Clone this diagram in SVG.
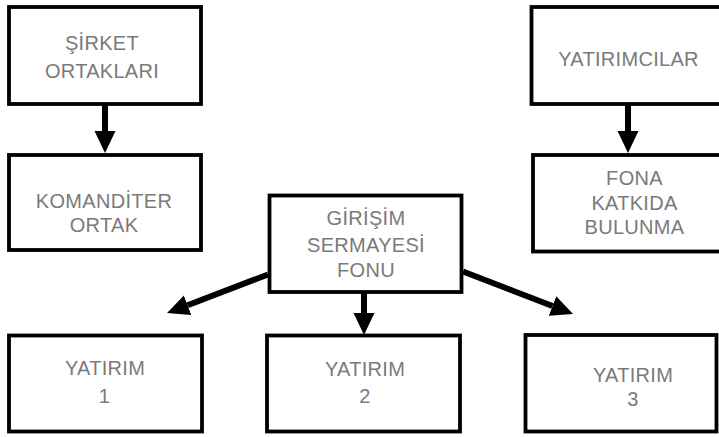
<svg xmlns="http://www.w3.org/2000/svg" width="719" height="437" viewBox="0 0 719 437">
  <style>
    .box { fill: #ffffff; stroke: #000000; stroke-width: 3.8; }
    .lbl { font-family: "Liberation Sans", Arial, Helvetica, sans-serif; font-size: 20px; letter-spacing: 0.3px; fill: #7a7a7a; text-anchor: middle; }
    .link { stroke: #000000; stroke-width: 6; fill: none; marker-end: url(#head); }
  </style>
  <defs>
    <marker id="head" markerUnits="userSpaceOnUse" markerWidth="24" markerHeight="22" refX="0" refY="11" orient="auto">
      <path d="M0,0.5 L22,11 L0,21.5 Z" fill="#000000"/>
    </marker>
  </defs>
  <rect width="719" height="437" fill="#ffffff"/>

  <g id="connectors">
    <line class="link" x1="105" y1="105" x2="105" y2="131"/>
    <line class="link" x1="628" y1="105" x2="628" y2="131"/>
    <line class="link" x1="364" y1="293" x2="364" y2="313"/>
    <line class="link" x1="268" y1="274.5" x2="187.6" y2="305.2"/>
    <line class="link" x1="463" y1="271.5" x2="552.5" y2="306"/>
  </g>

  <g id="sirket-ortaklari">
    <rect class="box" x="9" y="7" width="192" height="97"/>
    <text class="lbl" x="102" y="50">ŞİRKET</text>
    <text class="lbl" x="102" y="78">ORTAKLARI</text>
  </g>

  <g id="komanditer-ortak">
    <rect class="box" x="9" y="155" width="192" height="95"/>
    <text class="lbl" x="104" y="208">KOMANDİTER</text>
    <text class="lbl" x="104" y="232">ORTAK</text>
  </g>

  <g id="girisim-sermayesi-fonu">
    <rect class="box" x="269.5" y="195.5" width="192" height="96.5"/>
    <text class="lbl" x="366" y="225">GİRİŞİM</text>
    <text class="lbl" x="366" y="251.5">SERMAYESİ</text>
    <text class="lbl" x="366" y="277">FONU</text>
  </g>

  <g id="yatirimcilar">
    <rect class="box" x="531.5" y="7" width="195" height="97"/>
    <text class="lbl" x="628.5" y="65.5">YATIRIMCILAR</text>
  </g>

  <g id="fona-katkida-bulunma">
    <rect class="box" x="533" y="155" width="195" height="96.5"/>
    <text class="lbl" x="634.5" y="185">FONA</text>
    <text class="lbl" x="634.5" y="210">KATKIDA</text>
    <text class="lbl" x="634.5" y="234">BULUNMA</text>
  </g>

  <g id="yatirim-1">
    <rect class="box" x="9" y="335.5" width="193" height="96"/>
    <text class="lbl" x="105" y="375">YATIRIM</text>
    <text class="lbl" x="104.5" y="403">1</text>
  </g>

  <g id="yatirim-2">
    <rect class="box" x="267" y="335.5" width="193" height="96"/>
    <text class="lbl" x="365" y="376">YATIRIM</text>
    <text class="lbl" x="365" y="403">2</text>
  </g>

  <g id="yatirim-3">
    <rect class="box" x="525.5" y="335" width="191" height="96.5"/>
    <text class="lbl" x="633" y="381.5">YATIRIM</text>
    <text class="lbl" x="633" y="406">3</text>
  </g>
</svg>
